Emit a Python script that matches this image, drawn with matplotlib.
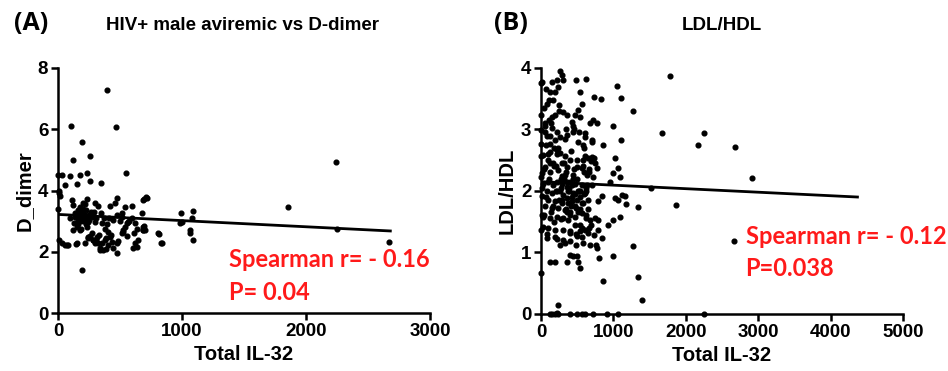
import matplotlib
matplotlib.use("Agg")
import matplotlib.pyplot as plt
from matplotlib.font_manager import FontProperties

# ---- panel A : Total IL-32 vs D-dimer ----
a_x = [398, 465, 108, 194, 121, 261, 546, 2245, 1855, 2670, 2250, 194,
       989, 1003, 1089, 1083, 1067, 1062, 1089, 815, 833, 691, 712, 691, 685,
       0, 35, 94, 175, 234, 54, 156, 261, 350, 8, 19, 3, 8, 54, 80, 143,
       8, 110, 124, 231, 204, 298, 322, 473, 460, 420, 540, 594, 715, 688,
       97, 137, 164, 191, 218, 245, 272, 151, 177, 231, 124, 298, 379, 406,
       446, 473, 513, 554, 540, 567, 527, 621, 635, 675, 688, 702, 809, 836, 984,
       30, 70, 151, 218, 245, 272, 285, 312, 325, 339, 366, 406, 379, 420, 433,
       446, 473, 473, 513, 527, 607, 635, 648, 621, 688,
       150, 170, 185, 205, 215, 228, 250, 262, 290, 305, 345, 358, 372, 392,
       415, 430, 500, 520, 575, 600, 160, 180, 200, 240, 255, 280, 300, 340, 390,
       140, 165, 190, 210, 225, 200, 185, 235, 175, 250, 265, 220, 130, 310, 330,
       355, 385, 480, 560, 610]
a_y = [7.29, 6.08, 6.12, 5.58, 5.0, 5.11, 4.58, 4.93, 3.45, 2.31, 2.74, 1.41,
       3.26, 2.96, 3.34, 3.10, 2.72, 2.61, 2.39, 2.57, 2.28, 3.72, 3.79, 2.83, 2.72,
       4.49, 4.49, 4.46, 4.52, 4.57, 4.19, 4.21, 4.30, 4.24, 4.0, 3.83, 3.4, 2.39, 2.23, 2.21, 2.25,
       3.93, 3.69, 3.53, 3.71, 3.58, 3.58, 3.5, 3.75, 3.58, 3.5, 3.47, 3.5, 3.75, 3.69,
       3.09, 3.15, 3.04, 3.26, 3.2, 2.98, 3.15, 2.82, 2.71, 2.82, 2.71, 2.98, 2.73, 2.66,
       3.04, 3.2, 3.26, 2.93, 2.82, 2.98, 2.66, 2.93, 2.73, 3.26, 2.82, 2.71, 2.6, 2.28, 2.93,
       2.28, 2.22, 2.28, 2.28, 2.49, 2.6, 2.39, 2.49, 2.28, 2.11, 2.06, 2.22, 2.39, 2.49, 2.33,
       2.11, 1.95, 2.28, 2.6, 2.71, 2.11, 2.17, 2.39, 2.28, 2.71,
       3.2, 3.1, 3.3, 3.0, 3.15, 3.35, 3.05, 3.25, 3.3, 3.1, 3.25, 2.95, 3.1, 2.9,
       3.1, 2.55, 3.0, 3.15, 3.0, 3.1, 2.9, 3.0, 3.18, 2.45, 2.5, 2.4, 2.3, 2.05, 2.1,
       3.25, 3.35, 3.05, 3.2, 2.9, 3.4, 2.75, 3.1, 3.45, 3.2, 3.3, 3.55, 2.95, 2.4, 2.55,
       2.3, 2.45, 2.35, 2.5, 2.6]
a_fit_x = [0, 2680]
a_fit_y = [3.22, 2.68]

# ---- panel B : Total IL-32 vs LDL/HDL ----
b_x = [1780, 1674, 2254, 2162, 2677, 2907, 1863, 2668, 1265, 1334, 1265, 1343, 1389, 860, 1518,
       2254, 124, 193, 240, 400, 492, 561, 607, 722, 906, 1067, 150, 215, 240,
       0, 0, 0, 0, 0, 0,
       262, 285, 225, 308, 147, 9, 69, 124, 193, 239, 170, 110, 87, 483, 621, 538, 561, 731, 823, 1044, 1099,
       147, 193, 115, 55, 308, 354, 423, 469, 515, 538, 676, 722, 768, 998, 0, 0, 55, 147, 216, 262, 363,
       446, 607, 607, 699, 860, 1099, 124, 193,
       32, 124, 216, 262, 331, 400, 55, 170, 285, 492, 584, 607, 653, 685, 731, 745, 768, 492, 561, 354,
       230, 124, 9, 1021, 1067, 998, 1090, 952, 331, 446, 630, 722,
       32, 101, 170, 225, 285, 354, 400, 469, 561, 78, 147, 216, 299, 377, 446, 538, 607, 9, 101, 193,
       285, 354, 423, 492, 584, 791, 837, 1021, 1067, 1113, 1159, 1173,
       55, 147, 239, 331, 400, 483, 561, 32, 124, 225, 308, 377, 469, 621, 676, 745, 791, 929, 998, 1090,
       23, 101, 193, 308, 400, 492, 538, 607, 653, 731, 791, 837,
       78, 225, 262, 331, 400, 483, 584, 676, 759, 400, 446, 497, 354, 124, 193, 515, 538, 805, 998, 768,
       60, 180, 250, 320, 410, 450, 520, 590, 650, 700, 40, 130, 270, 360, 440, 560, 620, 710,
       80, 200, 290, 380, 470, 540, 660, 100, 260, 350, 430, 510, 580,
       20, 65, 110, 160, 205, 250, 295, 340, 385, 425, 465, 505, 545, 590, 635,
       45, 90, 135, 180, 225, 270, 315, 360, 405, 450, 495, 535, 575, 620, 665,
       15, 70, 120, 175, 230, 280, 330, 375, 420, 470, 515, 560, 600, 645, 690,
       35, 85, 140, 195, 245, 300, 345, 395, 440, 485, 530, 570, 615, 660, 705]
b_y = [3.87, 2.94, 2.94, 2.74, 2.71, 2.21, 1.77, 1.19, 3.30, 1.74, 1.11, 0.60, 0.23, 0.53, 2.04,
       0.0, 0.0, 0.0, 0.0, 0.0, 0.0, 0.0, 0.0, 0.0, 0.0, 0.0, 0.0, 0.02, 0.14,
       3.75, 2.77, 2.56, 2.23, 0.66, 1.37,
       3.95, 3.88, 3.8, 3.8, 3.77, 3.77, 3.66, 3.61, 3.61, 3.69, 3.48, 3.48, 3.42, 3.8, 3.82, 3.61, 3.42, 3.52, 3.5, 3.71, 3.51,
       3.2, 3.23, 3.15, 3.1, 3.29, 3.23, 3.12, 3.23, 3.31, 3.2, 3.1, 3.15, 3.1, 3.05, 3.23, 2.99, 2.96, 3.02, 2.96, 2.88, 2.91,
       2.96, 2.94, 2.88, 2.83, 2.74, 2.83, 2.77, 2.83,
       2.58, 2.64, 2.66, 2.61, 2.56, 2.5, 2.39, 2.45, 2.45, 2.5, 2.5, 2.56, 2.53, 2.48, 2.53, 2.45, 2.37, 2.39, 2.37, 2.39,
       2.34, 2.31, 2.29, 2.53, 2.37, 2.29, 2.23, 2.15, 2.26, 2.26, 2.26, 2.23,
       2.12, 2.15, 2.1, 2.15, 2.12, 2.07, 2.15, 2.12, 2.1, 1.99, 1.96, 1.99, 1.94, 1.99, 1.96, 1.99, 1.96, 1.91, 1.85, 1.83,
       1.85, 1.88, 1.83, 1.85, 1.8, 1.83, 1.91, 1.88, 1.85, 1.94, 1.91, 1.79,
       1.75, 1.72, 1.72, 1.69, 1.66, 1.72, 1.64, 1.58, 1.56, 1.58, 1.56, 1.53, 1.58, 1.56, 1.53, 1.56, 1.53, 1.45, 1.53, 1.58,
       1.42, 1.39, 1.37, 1.37, 1.31, 1.26, 1.34, 1.37, 1.31, 1.29, 1.37, 1.23,
       1.23, 1.21, 1.12, 1.15, 1.18, 1.12, 1.15, 1.12, 1.12, 0.96, 0.94, 0.94, 0.85, 0.85, 0.85, 0.85, 0.75, 0.91, 0.94, 1.07,
       3.05, 2.7, 3.4, 2.2, 1.75, 3.0, 2.0, 2.3, 1.7, 2.8, 1.6, 2.45, 2.05, 1.65, 2.2, 1.8, 2.05, 2.55,
       2.9, 2.4, 1.8, 2.0, 1.95, 1.45, 2.35, 2.6, 2.0, 2.3, 2.1, 1.65, 2.75,
       2.05, 1.9, 2.2, 1.75, 2.0, 1.85, 2.25, 1.7, 2.05, 1.9, 1.75, 2.0, 1.7, 1.95, 2.1,
       2.35, 2.5, 1.65, 2.4, 2.6, 2.2, 2.45, 2.15, 1.6, 2.35, 2.2, 1.9, 2.4, 1.6, 2.3,
       1.6, 2.75, 2.9, 1.5, 2.7, 1.55, 2.85, 1.8, 2.65, 1.45, 2.8, 1.4, 2.7, 1.85, 1.45,
       3.35, 1.3, 3.1, 1.25, 3.3, 1.2, 3.0, 1.35, 3.05, 1.3, 2.95, 1.25, 2.0, 1.4, 2.1]
b_fit_x = [0, 4370]
b_fit_y = [2.15, 1.90]

tick_fp = FontProperties(family="Liberation Sans", weight="bold", size=13.5)
label_font = dict(family="Liberation Sans", weight="bold", size=14.5)
red_font = dict(family="Lato", weight="bold", size=17, color="#ff1a1a")

fig = plt.figure(figsize=(9.48, 3.71), dpi=100)


def style_axes(ax, xmax, xticks, ymax, yticks, ylabel):
    ax.set_xlim(0, xmax)
    ax.set_ylim(0, ymax)
    ax.set_xticks(xticks)
    ax.set_yticks(yticks)
    for s in ["top", "right"]:
        ax.spines[s].set_visible(False)
    for s in ["left", "bottom"]:
        ax.spines[s].set_linewidth(1.8)
    ax.tick_params(width=1.8, length=5, direction="out", pad=2)
    for lab in ax.get_xticklabels() + ax.get_yticklabels():
        lab.set_fontproperties(tick_fp)
    ax.set_xlabel("Total IL-32", fontdict=label_font, labelpad=4)
    ax.set_ylabel(ylabel, fontdict=label_font, labelpad=3)


# (A)
ax1 = fig.add_axes([0.0612, 0.156, 0.3924, 0.661])
ax1.plot(a_x, a_y, "o", color="black", ms=3.4, clip_on=False)
ax1.plot(a_fit_x, a_fit_y, color="black", lw=2)
style_axes(ax1, 3000, [0, 1000, 2000, 3000], 8, [0, 2, 4, 6, 8], "D_dimer")
ax1.text(0.46, 0.22, "Spearman r= - 0.16", transform=ax1.transAxes, va="center", **red_font)
ax1.text(0.46, 0.083, "P= 0.04", transform=ax1.transAxes, va="center", **red_font)

# (B)
ax2 = fig.add_axes([0.5707, 0.154, 0.3819, 0.663])
ax2.plot(b_x, b_y, "o", color="black", ms=3.4, clip_on=False)
ax2.plot(b_fit_x, b_fit_y, color="black", lw=2)
style_axes(ax2, 5000, [0, 1000, 2000, 3000, 4000, 5000], 4, [0, 1, 2, 3, 4], "LDL/HDL")
ax2.text(0.565, 0.315, "Spearman r= - 0.12", transform=ax2.transAxes, va="center", **red_font)
ax2.text(0.565, 0.185, "P=0.038", transform=ax2.transAxes, va="center", **red_font)

fig.text(14 / 948, 1 - 24 / 371, "(A)", family="Open Sans", weight="bold", size=18, va="center")
fig.text(243 / 948, 1 - 25 / 371, "HIV+ male aviremic vs D-dimer", family="Liberation Sans",
         weight="bold", size=13.5, ha="center", va="center")
fig.text(494 / 948, 1 - 24 / 371, "(B)", family="Open Sans", weight="bold", size=18, va="center")
fig.text(722 / 948, 1 - 25 / 371, "LDL/HDL", family="Liberation Sans",
         weight="bold", size=13.5, ha="center", va="center")

fig.savefig("out.png", dpi=100)
